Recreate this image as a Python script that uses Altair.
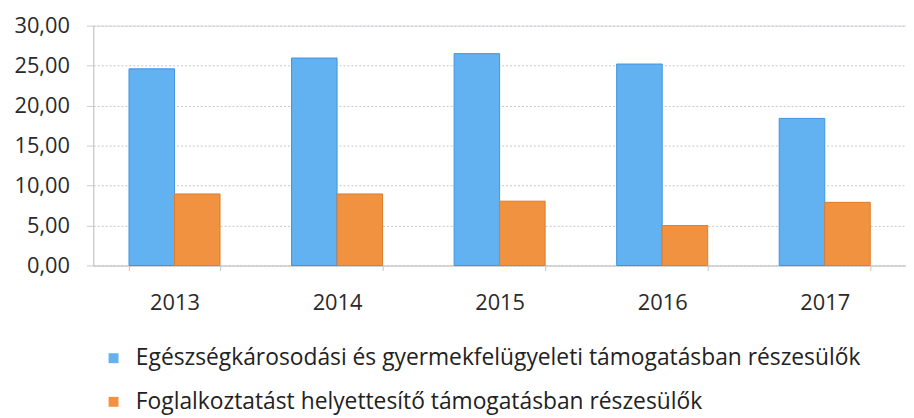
import altair as alt
import pandas as pd

years = ["2013", "2014", "2015", "2016", "2017"]
series_names = [
    "Egészségkárosodási és gyermekfelügyeleti támogatásban részesülők",
    "Foglalkoztatást helyettesítő támogatásban részesülők",
]
blue_values = [24.6, 25.95, 26.5, 25.2, 18.4]
orange_values = [8.95, 8.95, 8.05, 5.0, 7.9]
fill_colors = ["#62b1f0", "#f0923f"]
stroke_colors = ["#3f93e2", "#de7b2c"]

rows = []
for i, y in enumerate(years):
    rows.append({"year": y, "series": series_names[0], "order": 0, "value": blue_values[i]})
    rows.append({"year": y, "series": series_names[1], "order": 1, "value": orange_values[i]})
df = pd.DataFrame(rows)

FONT = "Open Sans"

chart = (
    alt.Chart(df)
    .mark_bar(strokeWidth=1)
    .encode(
        x=alt.X(
            "year:N",
            title=None,
            sort=years,
            scale=alt.Scale(paddingInner=0.44, paddingOuter=0.22),
            axis=alt.Axis(
                labelAngle=0,
                labelFont=FONT,
                labelFontSize=22,
                labelColor="#2a2a2a",
                labelPadding=22,
                tickBand="extent",
                ticks=True,
                tickSize=5,
                tickColor="#c4c4c4",
                domainColor="#c4c4c4",
                grid=False,
            ),
        ),
        xOffset=alt.XOffset("order:O", scale=alt.Scale(paddingInner=0, paddingOuter=0)),
        y=alt.Y(
            "value:Q",
            title=None,
            scale=alt.Scale(domain=[0, 30], nice=False),
            axis=alt.Axis(
                values=[0, 5, 10, 15, 20, 25, 30],
                labelExpr="replace(format(datum.value, '.2f'), '.', ',')",
                labelFont=FONT,
                labelFontSize=22,
                labelColor="#2a2a2a",
                labelPadding=17,
                ticks=True,
                tickSize=7,
                tickColor="#c8ccd4",
                domainColor="#c4c4c4",
                grid=True,
                gridColor="#c0c6d0",
                gridDash=[2, 2],
                gridWidth=1,
            ),
        ),
        color=alt.Color(
            "series:N",
            sort=series_names,
            scale=alt.Scale(domain=series_names, range=fill_colors),
            legend=alt.Legend(
                title=None,
                orient="none",
                legendX=9,
                legendY=324,
                direction="vertical",
                symbolType="square",
                symbolSize=100,
                symbolStrokeWidth=0,
                labelFont=FONT,
                labelFontSize=23,
                labelColor="#222222",
                labelLimit=0,
                labelOffset=11,
                rowPadding=20,
                padding=0,
            ),
        ),
        stroke=alt.Stroke(
            "series:N",
            scale=alt.Scale(domain=series_names, range=stroke_colors),
            legend=None,
        ),
    )
    .properties(
        width=820,
        height=242,
        autosize=alt.AutoSizeParams(type="none"),
        padding={"left": 86, "top": 16, "right": 0, "bottom": 150},
    )
    .configure_view(stroke=None)
    .configure(background="white")
)

chart.save("out.html", embed_options={"renderer": "svg", "actions": False})
